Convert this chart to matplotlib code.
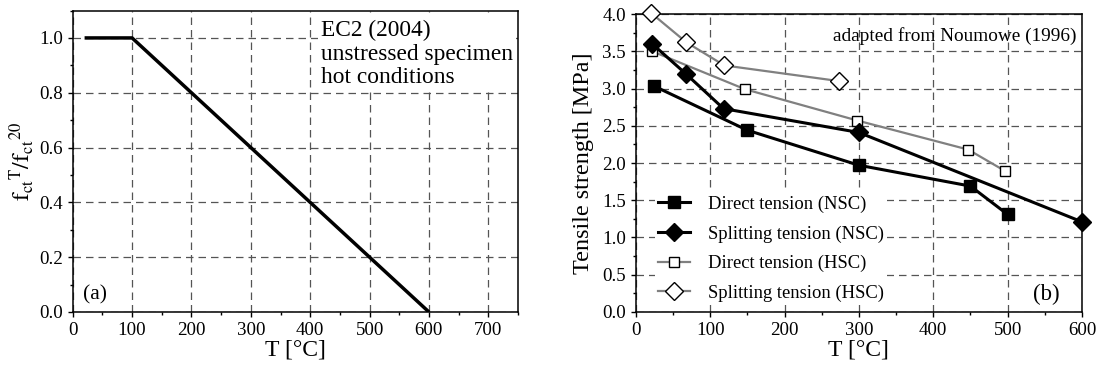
import matplotlib
matplotlib.use("Agg")
import matplotlib.pyplot as plt
from matplotlib.ticker import MultipleLocator, FormatStrFormatter

plt.rcParams['font.family'] = ['Liberation Serif', 'DejaVu Serif']
plt.rcParams['mathtext.fontset'] = 'stix'

# Panel (a): EC2 (2004) reduction factor
ec2_T = [20, 100, 600]
ec2_k = [1.0, 1.0, 0.0]

# Panel (b): Noumowe (1996)
dn_T = [25, 150, 300, 450, 500]
dn_f = [3.03, 2.44, 1.97, 1.69, 1.31]
sn_T = [22, 67, 118, 300, 600]
sn_f = [3.60, 3.20, 2.73, 2.41, 1.21]
dh_T = [22, 147, 298, 447, 497]
dh_f = [3.50, 2.99, 2.57, 2.18, 1.89]
sh_T = [21, 68, 119, 273]
sh_f = [4.01, 3.62, 3.31, 3.10]

labels = ["Direct tension (NSC)", "Splitting tension (NSC)",
          "Direct tension (HSC)", "Splitting tension (HSC)"]

fig = plt.figure(figsize=(11, 3.69), dpi=100)
ax1 = fig.add_axes([0.0661, 0.1545, 0.4048, 0.817])
ax2 = fig.add_axes([0.578, 0.1545, 0.4056, 0.8075])

grid_kw = dict(color='#555555', linestyle=(0, (6, 4)), linewidth=0.9)

for ax in (ax1, ax2):
    ax.tick_params(direction='out', which='both', labelsize=13.6, pad=3.5,
                   width=1.0)
    ax.tick_params(which='major', length=3.5)
    ax.tick_params(which='minor', length=2.5)
    ax.grid(True, which='major', **grid_kw)
    ax.set_axisbelow(True)
    for s in ax.spines.values():
        s.set_linewidth(1.1)

# ---- panel (a)
ax1.plot(ec2_T, ec2_k, color='black', lw=2.5, solid_capstyle='butt')
ax1.set_xlim(0, 750)
ax1.set_ylim(0, 1.1)
ax1.xaxis.set_major_locator(MultipleLocator(100))
ax1.xaxis.set_minor_locator(MultipleLocator(50))
ax1.yaxis.set_major_locator(MultipleLocator(0.2))
ax1.yaxis.set_minor_locator(MultipleLocator(0.1))
ax1.yaxis.set_major_formatter(FormatStrFormatter('%.1f'))
ax1.set_xlabel("T [°C]", fontsize=17, labelpad=0.5)
ax1.set_ylabel(r"$\mathrm{f}_{\mathrm{ct}}{}^{\mathrm{T}}/\mathrm{f}_{\mathrm{ct}}{}^{20}$",
               fontsize=17, labelpad=2)
ax1.text(0.558, 0.968, "EC2 (2004)\nunstressed specimen\nhot conditions",
         transform=ax1.transAxes, ha='left', va='top', fontsize=16.8,
         linespacing=1.15, zorder=3,
         bbox=dict(facecolor='white', edgecolor='none', pad=2))
ax1.text(0.023, 0.025, "(a)", transform=ax1.transAxes, ha='left', va='bottom',
         fontsize=15.5)

# ---- panel (b)
grey = '#808080'
line_kw = dict(clip_on=False)
ax2.plot(dh_T, dh_f, color=grey, lw=1.6, marker='s', ms=7.5,
         mfc='white', mec='black', mew=1.0, label=labels[2], zorder=3, **line_kw)
ax2.plot(sh_T, sh_f, color=grey, lw=1.6, marker='D', ms=9,
         mfc='white', mec='black', mew=1.0, label=labels[3], zorder=3, **line_kw)
ax2.plot(dn_T, dn_f, color='black', lw=2.2, marker='s', ms=8,
         mfc='black', mec='black', label=labels[0], zorder=4, **line_kw)
ax2.plot(sn_T, sn_f, color='black', lw=2.2, marker='D', ms=9.5,
         mfc='black', mec='black', label=labels[1], zorder=4, **line_kw)

ax2.set_xlim(0, 600)
ax2.set_ylim(0, 4.0)
ax2.xaxis.set_major_locator(MultipleLocator(100))
ax2.xaxis.set_minor_locator(MultipleLocator(50))
ax2.yaxis.set_major_locator(MultipleLocator(0.5))
ax2.yaxis.set_minor_locator(MultipleLocator(0.25))
ax2.yaxis.set_major_formatter(FormatStrFormatter('%.1f'))
ax2.set_xlabel("T [°C]", fontsize=17, labelpad=0.5)
ax2.set_ylabel("Tensile strength [MPa]", fontsize=17.4, labelpad=6)
ax2.text(0.988, 0.955, "adapted from Noumowe (1996)", transform=ax2.transAxes,
         ha='right', va='top', fontsize=13.9)
ax2.text(0.951, 0.025, "(b)", transform=ax2.transAxes, ha='right', va='bottom',
         fontsize=16.5)

h, l = ax2.get_legend_handles_labels()
order = [2, 3, 0, 1]
leg = ax2.legend([h[i] for i in order], [l[i] for i in order],
                 loc='lower left', bbox_to_anchor=(0.042, 0.022),
                 frameon=True, fancybox=False, edgecolor='none',
                 facecolor='white', framealpha=1.0, fontsize=13.4,
                 handlelength=1.7, handletextpad=0.95, labelspacing=0.66,
                 borderpad=0.2, borderaxespad=0.0)
leg.set_zorder(5)

fig.savefig("out.png", dpi=100)
